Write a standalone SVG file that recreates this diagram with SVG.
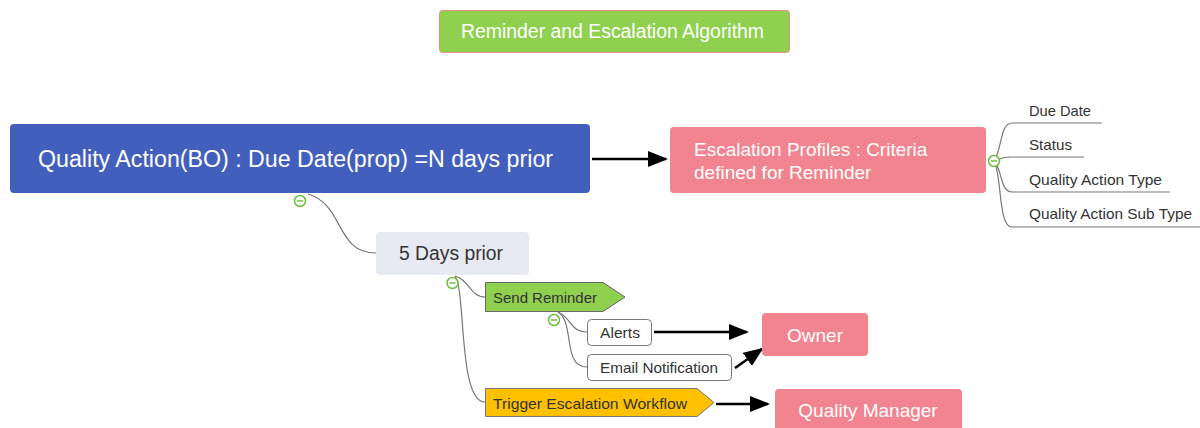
<svg xmlns="http://www.w3.org/2000/svg" width="1200" height="428" viewBox="0 0 1200 428">
<defs>
<marker id="ahb" viewBox="0 0 10 10" refX="9" refY="5" markerWidth="20" markerHeight="16" markerUnits="userSpaceOnUse" orient="auto" preserveAspectRatio="none"><path d="M0,0 L10,5 L0,10 z" fill="#000"/></marker>
</defs>
<style>
text{font-family:"Liberation Sans",Arial,sans-serif;}
.wt{fill:#fff;}
.dk{fill:#333;}
.pink{fill:#f2848f;}
.br{fill:none;stroke:#777;stroke-width:1.2;}
.ar{fill:none;stroke:#000;stroke-width:2.5;marker-end:url(#ahb);}
.col{fill:#fff;stroke:#6cbf3c;stroke-width:1.5;}
.colm{stroke:#6cbf3c;stroke-width:1.5;}
</style>
<rect width="1200" height="428" fill="#fff"/>

<g id="title">
<rect x="439.5" y="10.5" width="350" height="42" rx="3" fill="#8fd14f" stroke="#f08a8a" stroke-width="1"/>
<text x="461" y="38" font-size="19.5" class="wt" textLength="303" lengthAdjust="spacingAndGlyphs">Reminder and Escalation Algorithm</text>
</g>

<g id="connectors">
<path class="ar" d="M592,159 L666,159"/>
<path class="br" d="M308,194 C345,205 335,253 376,253"/>
<path class="br" d="M994,161 C1002,150 1000,123 1012,123 L1102,123"/>
<path class="br" d="M994,161 C1002,158 1002,157 1012,157 L1084,157"/>
<path class="br" d="M994,161 C1002,168 1000,192 1012,192 L1170,192"/>
<path class="br" d="M994,161 C1002,175 998,227 1012,227 L1200,227"/>
<path class="br" d="M455,276 C470,280 470,297 485,297"/>
<path class="br" d="M455,276 C466,290 458,402 485,402"/>
<path class="br" d="M558,312 C572,318 570,332 587,332"/>
<path class="br" d="M558,312 C575,322 562,367 587,367"/>
<path class="ar" d="M654,332 L747,332"/>
<path class="ar" d="M735,368 L762,349"/>
<path class="ar" d="M716,404 L768,404"/>
</g>

<g id="main">
<rect x="10" y="124" width="580" height="69" rx="4" fill="#435fbd"/>
<text x="38" y="167" font-size="23" class="wt" textLength="515" lengthAdjust="spacingAndGlyphs">Quality Action(BO) : Due Date(prop) =N days prior</text>
<circle cx="300" cy="201" r="5.5" class="col"/>
<line x1="297" y1="201" x2="303" y2="201" class="colm"/>
</g>

<g id="escalation">
<rect x="670" y="127" width="316" height="66" rx="4" class="pink"/>
<text x="694" y="156" font-size="19" class="wt">Escalation Profiles : Criteria</text>
<text x="694" y="179" font-size="19" class="wt">defined for Reminder</text>
<circle cx="994" cy="161" r="5.5" class="col"/>
<line x1="991" y1="161" x2="997" y2="161" class="colm"/>
</g>

<g id="due-date"><text x="1029" y="116" font-size="14.5" class="dk" textLength="62" lengthAdjust="spacingAndGlyphs">Due Date</text></g>
<g id="status"><text x="1029" y="150" font-size="14.5" class="dk" textLength="43" lengthAdjust="spacingAndGlyphs">Status</text></g>
<g id="qa-type"><text x="1029" y="185" font-size="14.5" class="dk" textLength="133" lengthAdjust="spacingAndGlyphs">Quality Action Type</text></g>
<g id="qa-sub-type"><text x="1029" y="219" font-size="14.5" class="dk" textLength="163" lengthAdjust="spacingAndGlyphs">Quality Action Sub Type</text></g>

<g id="five-days">
<rect x="376" y="232" width="153" height="43" rx="4" fill="#e8eaf3"/>
<text x="399" y="260" font-size="19.5" class="dk" textLength="104" lengthAdjust="spacingAndGlyphs">5 Days prior</text>
<circle cx="452.5" cy="283" r="5.5" class="col"/>
<line x1="449.5" y1="283" x2="455.5" y2="283" class="colm"/>
</g>

<g id="send-reminder">
<path d="M485.5,282.5 L603,282.5 L625,297 L603,311.5 L485.5,311.5 Z" fill="#8fd14f" stroke="#666" stroke-width="1"/>
<text x="493" y="302.5" font-size="15" class="dk" textLength="104" lengthAdjust="spacingAndGlyphs">Send Reminder</text>
<circle cx="554" cy="320" r="5.5" class="col"/>
<line x1="551" y1="320" x2="557" y2="320" class="colm"/>
</g>

<g id="alerts">
<rect x="587.5" y="319.5" width="64" height="26" rx="4" fill="#fff" stroke="#777" stroke-width="1"/>
<text x="600" y="338" font-size="15" class="dk" textLength="40" lengthAdjust="spacingAndGlyphs">Alerts</text>
</g>

<g id="email">
<rect x="587.5" y="354.5" width="144" height="26" rx="4" fill="#fff" stroke="#777" stroke-width="1"/>
<text x="600" y="373" font-size="15" class="dk" textLength="118" lengthAdjust="spacingAndGlyphs">Email Notification</text>
</g>

<g id="owner">
<rect x="762" y="313" width="106" height="43" rx="4" class="pink"/>
<text x="815" y="342" font-size="19" class="wt" text-anchor="middle">Owner</text>
</g>

<g id="trigger">
<path d="M485.5,388.5 L697,388.5 L714,402.5 L697,416.5 L485.5,416.5 Z" fill="#ffc000" stroke="#777" stroke-width="1"/>
<text x="493" y="408.5" font-size="15" class="dk" textLength="194" lengthAdjust="spacingAndGlyphs">Trigger Escalation Workflow</text>
</g>

<g id="quality-manager">
<rect x="775" y="389" width="187" height="50" rx="4" class="pink"/>
<text x="868" y="417" font-size="19" class="wt" text-anchor="middle">Quality Manager</text>
</g>
</svg>
